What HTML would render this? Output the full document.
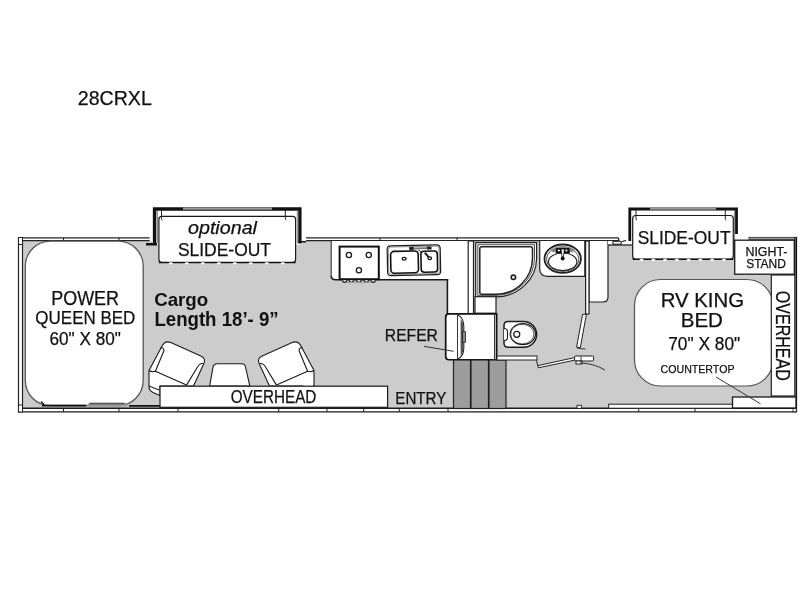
<!DOCTYPE html>
<html><head><meta charset="utf-8"><style>
html,body{margin:0;padding:0;background:#fff;width:800px;height:600px;overflow:hidden}
svg{display:block;will-change:transform}
text{font-family:"Liberation Sans",sans-serif;fill:#111;stroke:#111;stroke-width:0.25px}
</style></head><body>
<svg width="800" height="600" viewBox="0 0 800 600">
<rect width="800" height="600" fill="#fff"/>

<!-- floor -->
<rect x="22.5" y="241" width="772" height="167" fill="#cccccc"/>

<!-- outer walls -->
<g fill="none" stroke="#222" stroke-width="1.2">
  <!-- left wall -->
  <line x1="18.5" y1="237" x2="18.5" y2="412.5"/>
  <line x1="22.5" y1="240.5" x2="22.5" y2="408.5"/>
  <!-- top wall left -->
  <line x1="18" y1="237.8" x2="149.6" y2="237.8"/>
  <line x1="22" y1="240.7" x2="149.6" y2="240.7"/>
  <!-- top wall middle -->
  <line x1="306" y1="237.8" x2="618.5" y2="237.8"/>
  <line x1="306" y1="240.6" x2="618.5" y2="240.6"/>
  <!-- top right -->
  <!-- bottom wall -->
  <line x1="18" y1="411.8" x2="796.5" y2="411.8" stroke-width="1.3" stroke="#1a1a1a"/>
  <line x1="22" y1="408.3" x2="795" y2="408.3" stroke-width="1.4" stroke="#1a1a1a"/>
</g>
<rect x="749" y="237.3" width="47.5" height="2.6" fill="#999" stroke="#333" stroke-width="0.8"/>
<rect x="794.3" y="237.5" width="2.3" height="36.5" fill="#999" stroke="#333" stroke-width="0.8"/>
<line x1="796.3" y1="237" x2="796.3" y2="412.3" stroke="#111" stroke-width="1.6"/>
<rect x="793" y="408.5" width="3.3" height="3.2" fill="#fff" stroke="#222" stroke-width="0.8"/>
<g stroke="#222" stroke-width="1"><line x1="63.5" y1="408.2" x2="63.5" y2="411.9"/><line x1="119" y1="408" x2="119" y2="412"/><line x1="178" y1="408" x2="178" y2="412"/><line x1="278.7" y1="408" x2="278.7" y2="412"/><line x1="327" y1="408" x2="327" y2="412"/><line x1="363.7" y1="408" x2="363.7" y2="412"/><line x1="638.7" y1="408" x2="638.7" y2="412"/><line x1="695" y1="408" x2="695" y2="412"/><line x1="399.3" y1="408" x2="399.3" y2="412"/><line x1="448" y1="408" x2="448" y2="412"/>
<line x1="63.5" y1="237.5" x2="63.5" y2="241"/><line x1="119" y1="237.5" x2="119" y2="241"/><line x1="380" y1="237.5" x2="380" y2="241"/><line x1="457" y1="237.5" x2="457" y2="241"/></g>
<rect x="577" y="405.3" width="4.5" height="3" fill="#fff" stroke="#222" stroke-width="0.9"/>
<rect x="608.7" y="404.2" width="124" height="4" fill="#fff" stroke="#222" stroke-width="1"/>
<rect x="18.5" y="237.5" width="4" height="7" fill="#fff" stroke="#222" stroke-width="1"/>
<rect x="18.5" y="405" width="4" height="7" fill="#fff" stroke="#222" stroke-width="1"/>

<!-- queen bed -->
<rect x="25.3" y="241.2" width="117.9" height="164.3" rx="25" fill="#fff" stroke="#555" stroke-width="1.3"/>

<g stroke="#111" stroke-width="1.7"><line x1="42" y1="405.7" x2="86" y2="405.7"/><line x1="129" y1="405.9" x2="165" y2="405.9"/></g>
<path d="M86 406.5 L89.5 402.8 H124.5 L128 406.5 Z" fill="#9a9a9a"/>
<rect x="89.5" y="402.8" width="35" height="1.6" fill="#555"/>
<path d="M41 401.5 L44 404.5" stroke="#111" stroke-width="1.2"/>
<!-- left slide-out -->
<rect x="152" y="207.5" width="149.5" height="37" fill="#fff"/>
<path d="M154.5 245 V209 H299.9 V243.5" fill="none" stroke="#111" stroke-width="3.3"/>
<path d="M146 243 H157 V245.5 H146 Z M298 241 H306 V242.5 H298 Z" fill="#111"/>
<line x1="183" y1="208.6" x2="272" y2="208.6" stroke="#9a9a9a" stroke-width="2.4"/>
<line x1="157.2" y1="210" x2="157.2" y2="243" stroke="#444" stroke-width="0.9"/>
<line x1="297.3" y1="210" x2="297.3" y2="243" stroke="#777" stroke-width="0.9"/>
<rect x="158.9" y="216.3" width="136.7" height="46.2" rx="3" fill="#fff" stroke="#1a1a1a" stroke-width="1.2"/>
<line x1="158.9" y1="262.5" x2="295.6" y2="262.5" stroke="#111" stroke-width="1.6"/>
<g fill="#fff" stroke="#bbb" stroke-width="0.5"><ellipse cx="170.8" cy="263.6" rx="2" ry="1.3"/><ellipse cx="186.8" cy="263.6" rx="2" ry="1.3"/><ellipse cx="202.8" cy="263.6" rx="2" ry="1.3"/><ellipse cx="218.8" cy="263.6" rx="2" ry="1.3"/><ellipse cx="234.8" cy="263.6" rx="2" ry="1.3"/><ellipse cx="250.8" cy="263.6" rx="2" ry="1.3"/><ellipse cx="266.8" cy="263.6" rx="2" ry="1.3"/><ellipse cx="282.8" cy="263.6" rx="2" ry="1.3"/></g>
<path d="M161.5 210 V218.5 q0 1.5 1 1.5 M285.3 210 V218.5 q0 1.5 1 1.5" fill="none" stroke="#222" stroke-width="1"/>
<!-- Cargo text -->

<!-- chairs -->
<g fill="#fff" stroke="#1a1a1a" stroke-width="1.1" stroke-linejoin="round">
  <path d="M162.3 345.6 Q165.3 340.2 170.8 342.6 L200.8 355.9 Q206.3 358.4 203.8 363.8 L193.5 386 L160 386 L160 395.5 L153 392.5 Q149 390.5 149 386.5 L149 370.5 Z"/>
  <path d="M160.5 348 Q163 346.5 164 350.5 L155.4 371.3" fill="none"/>
  <path d="M149 370.5 Q152 372.5 155.4 371.3 L186.5 385.1" fill="none"/>
  <path d="M203.3 363.5 Q199.5 363 197.5 367 L186.5 385.1" fill="none"/>
  <path d="M149 385.9 L159 390" fill="none"/>
</g>
<g transform="translate(463,0) scale(-1,1)" fill="#fff" stroke="#1a1a1a" stroke-width="1.1" stroke-linejoin="round">
  <path d="M162.3 345.6 Q165.3 340.2 170.8 342.6 L200.8 355.9 Q206.3 358.4 203.8 363.8 L193.5 386 L160 386 L160 395.5 L153 392.5 Q149 390.5 149 386.5 L149 370.5 Z"/>
  <path d="M160.5 348 Q163 346.5 164 350.5 L155.4 371.3" fill="none"/>
  <path d="M149 370.5 Q152 372.5 155.4 371.3 L186.5 385.1" fill="none"/>
  <path d="M203.3 363.5 Q199.5 363 197.5 367 L186.5 385.1" fill="none"/>
  <path d="M149 385.9 L159 390" fill="none"/>
</g>
<path d="M209.7 386 L213 367 Q214 363.8 217 363.8 H242 Q245 363.8 245.5 367 L249.8 386 Z" fill="#fff" stroke="#1a1a1a" stroke-width="1.1"/>
<!-- overhead left -->
<rect x="160" y="386.2" width="227.6" height="21.1" fill="#fff" stroke="#1a1a1a" stroke-width="1.2"/>

<!-- kitchen -->
<path d="M331.2 241 V275.5 Q331.2 279.8 335.5 279.8 H447.4 V241 Z" fill="#fff"/>
<rect x="447" y="241" width="22" height="73" fill="#fff"/>
<line x1="447.4" y1="279" x2="447.4" y2="313.8" stroke="#1a1a1a" stroke-width="1.6"/>
<line x1="331.2" y1="241" x2="331.2" y2="275.5" stroke="#333" stroke-width="1.1"/>
<path d="M331.2 275.5 Q331.2 279.8 335.5 279.8 H448.2" fill="none" stroke="#1a1a1a" stroke-width="1.6"/>
<!-- stove -->
<rect x="339.6" y="246.6" width="39.2" height="32.6" fill="#fff" stroke="#111" stroke-width="2"/>
<g fill="#fff" stroke="#1a1a1a" stroke-width="1.3">
<circle cx="348.9" cy="255" r="2.6"/><circle cx="368.8" cy="255" r="2.6"/><circle cx="358.9" cy="270.2" r="2.6"/>
</g>
<g fill="#fff" stroke="#222" stroke-width="1.2"><path d="M342.6 280.3 a2 2 0 0 0 4 0" /><path d="M349.4 280.3 a2 2 0 0 0 4 0" /><path d="M356.9 280.3 a2 2 0 0 0 4 0" /><path d="M364.4 280.3 a2 2 0 0 0 4 0" /><path d="M371.2 280.3 a2 2 0 0 0 4 0" /></g>
<path d="M346 282.5 H372" stroke="#999" stroke-width="1"/>
<!-- sink -->
<g transform="rotate(-1.2 413 260)">
<rect x="387.4" y="245.4" width="53" height="29.8" rx="3.5" fill="#fff" stroke="#1a1a1a" stroke-width="1.2"/>
<rect x="388.6" y="246.6" width="50.6" height="27.4" rx="3" fill="none" stroke="#555" stroke-width="0.6"/>
<rect x="390.7" y="251" width="27.6" height="21.8" rx="3.5" fill="#fff" stroke="#111" stroke-width="1.6"/>
<rect x="421" y="251.5" width="16.4" height="21" rx="3" fill="#fff" stroke="#111" stroke-width="1.6"/>
<rect x="409.5" y="246.8" width="4.5" height="3.4" fill="#222"/>
<rect x="414" y="247.6" width="13" height="1.8" fill="#777"/>
<rect x="427" y="246.8" width="4.8" height="3" fill="#222"/>
<path d="M418.5 250 Q421 251 421 253" fill="none" stroke="#222" stroke-width="1"/>
<ellipse cx="404.2" cy="258.6" rx="2" ry="1.4" fill="#fff" stroke="#111" stroke-width="1.3"/>
<path d="M425 253 L429.5 258.5" stroke="#222" stroke-width="2"/>
<ellipse cx="429.8" cy="258.6" rx="1.8" ry="1.3" fill="#fff" stroke="#111" stroke-width="1.2"/>
</g>

<!-- bathroom walls -->
<g fill="#fff" stroke="#222" stroke-width="1.2">
  <rect x="468.2" y="241" width="5.3" height="72.5"/>
  <!-- shower -->
  <path d="M475.7 242.6 H536.6 V258 A40.6 38.8 0 0 1 496 296.8 H475.7 Z"/>
  <path d="M477.8 244.7 H534.5 V258 A38.5 37.4 0 0 1 496 295.4 H477.8 Z" stroke-width="0.8"/>
  <path d="M481.8 246.8 H530.5 Q532.5 246.8 532.5 248.8 V258 A36.5 36.3 0 0 1 496 294.3 H481.8 Q479.8 294.3 479.8 292.3 V248.8 Q479.8 246.8 481.8 246.8 Z" stroke-width="1.5"/>
  <circle cx="513.4" cy="277.3" r="2.2" stroke-width="1.6"/>
  <rect x="475" y="296.7" width="21" height="16.5"/>
  <!-- vanity -->
  <path d="M539.7 241 V268.5 Q539.7 276.3 547.5 276.3 H584.8 V241"/>
  <ellipse cx="562.7" cy="258.7" rx="18.2" ry="14.2" stroke-width="1.8"/>
  <ellipse cx="562.7" cy="259.2" rx="16.2" ry="12.2" stroke-width="0.8"/>
  <ellipse cx="562.7" cy="261.8" rx="14.2" ry="8.8" stroke-width="1.1"/>
  <!-- closet -->
  <path d="M589 241 V302 H603 Q608 302 608 297 V241"/>
  <rect x="585.6" y="241" width="3.4" height="73"/>
</g>
<path d="M550 250 Q556 246 562.7 246 Q569.5 246 575.5 250 L572 252.5 Q567.5 249.5 562.7 249.5 Q558 249.5 553.5 252.5 Z" fill="#888"/>
<path d="M556 248 H569.5 L570 253.5 H555.5 Z" fill="#111"/>
<circle cx="558.8" cy="250.5" r="1.1" fill="#fff"/><circle cx="566.4" cy="250.5" r="1.1" fill="#fff"/>
<path d="M561 249 H564.4 L563.4 257 H562 Z" fill="#fff" stroke="#111" stroke-width="0.8"/>
<circle cx="562.7" cy="258.5" r="2" fill="#111"/>

<!-- fridge -->
<path d="M449 313.9 H496.6 V359.75 H449 Q445.7 359.75 445.7 356.5 V317.2 Q445.7 313.9 449 313.9 Z" fill="#fff" stroke="#111" stroke-width="1.7"/>
<line x1="494.6" y1="314.5" x2="494.6" y2="359" stroke="#222" stroke-width="1"/>
<line x1="457.6" y1="314.5" x2="457.6" y2="359" stroke="#222" stroke-width="1"/>
<path d="M458 315 Q463.8 318 463.8 327 V348 Q463.8 356 458 359" fill="#fff" stroke="#222" stroke-width="1.1"/>
<path d="M460.6 319.5 Q463.6 322 463.6 328 V347 Q463.6 353 460.6 355.5 Z" fill="#555"/>
<rect x="462.6" y="331.7" width="2.8" height="10.5" fill="#888" stroke="#222" stroke-width="0.8"/>
<line x1="424" y1="346.3" x2="453.5" y2="351.3" stroke="#333" stroke-width="1"/>

<!-- steps -->
<g fill="#9d9d9d" stroke="#222" stroke-width="1.2">
<rect x="453.5" y="360" width="17" height="48.5"/>
<rect x="471" y="360" width="17.5" height="48.5"/>
<rect x="489" y="360" width="17" height="48.5"/>
</g>

<!-- toilet -->
<g fill="#fff" stroke="#1a1a1a" stroke-width="1.2">
<path d="M508 321.6 H523.6 A13 12.8 0 0 1 523.6 347.2 H508 Q504 347.2 504 343.2 V325.6 Q504 321.6 508 321.6 Z" stroke-width="1.5"/>
<path d="M504 328.5 Q507.5 328.5 507.5 331.5 V337.5 Q507.5 340.5 504 340.5" stroke-width="1.1"/>
<ellipse cx="522.8" cy="334.1" rx="12.6" ry="10.6"/>
<ellipse cx="522.3" cy="334.1" rx="11.6" ry="9.8" stroke-width="0.7"/>
<circle cx="516.8" cy="334.3" r="3"/>
</g>
<!-- bath bottom wall and doors -->
<g fill="#fff" stroke="#222" stroke-width="1">
<rect x="497" y="356" width="40" height="4"/>
<path d="M536.5 360.5 L538.3 367.8 L574.6 360.2 L574.6 357.6 L538 365.6" fill="#fff"/>
<rect x="574.6" y="356" width="19" height="5" rx="1"/>
<rect x="576" y="361" width="6" height="3"/>
<path d="M582.6 314.3 L586.4 314.3 L580.3 347.6 L576.6 347.2 Z"/>
<line x1="581" y1="356.5" x2="581" y2="364" stroke="#222" stroke-width="0.9"/>
</g>
<path d="M582 363 Q595 364 605 370" fill="none" stroke="#333" stroke-width="1"/>
<path d="M577 348 Q582 349 585.5 349" fill="none" stroke="#333" stroke-width="1"/>

<!-- right slide-out -->
<rect x="608" y="241" width="24" height="4" fill="#fff"/>
<line x1="608" y1="245" x2="632" y2="245" stroke="#111" stroke-width="1.2"/>
<rect x="612.8" y="241.2" width="8.5" height="3" rx="1.2" fill="#fff" stroke="#111" stroke-width="1.1"/>
<path d="M618.5 238 L619 241 M622 241.5 L626 240.5" stroke="#111" stroke-width="1.2"/>
<rect x="628" y="207.5" width="109.5" height="33" fill="#fff"/>
<path d="M629.8 241 V209 H736.5 V234" fill="none" stroke="#111" stroke-width="2.8"/>
<line x1="650" y1="208.6" x2="716" y2="208.6" stroke="#9a9a9a" stroke-width="2.4"/>
<line x1="734.6" y1="210" x2="734.6" y2="262" stroke="#777" stroke-width="0.9"/>
<rect x="632.7" y="215.5" width="100.6" height="43.8" rx="3" fill="#fff" stroke="#1a1a1a" stroke-width="1.2"/>
<line x1="632.7" y1="259.3" x2="733.3" y2="259.3" stroke="#111" stroke-width="1.6"/>
<g fill="#fff" stroke="#bbb" stroke-width="0.5"><ellipse cx="641.6" cy="260.1" rx="2" ry="1.3"/><ellipse cx="653.4" cy="260.1" rx="2" ry="1.3"/><ellipse cx="665.1" cy="260.1" rx="2" ry="1.3"/><ellipse cx="676.9" cy="260.1" rx="2" ry="1.3"/><ellipse cx="688.6" cy="260.1" rx="2" ry="1.3"/><ellipse cx="700.4" cy="260.1" rx="2" ry="1.3"/><ellipse cx="712.1" cy="260.1" rx="2" ry="1.3"/><ellipse cx="723.9" cy="260.1" rx="2" ry="1.3"/></g>
<path d="M636 210 V218.5 q0 1.5 1 1.5 M725.3 210 V218.5 q0 1.5 1 1.5" fill="none" stroke="#222" stroke-width="1"/>
<!-- nightstand -->
<rect x="734.7" y="240.2" width="59.6" height="34" fill="#fff" stroke="#1a1a1a" stroke-width="1.3"/>

<!-- king bed -->
<rect x="634.5" y="279.5" width="138.5" height="106.5" rx="26" fill="#fff" stroke="#555" stroke-width="1.2"/>

<!-- overhead right -->
<rect x="771.3" y="275" width="23.5" height="121" fill="#fff" stroke="#222" stroke-width="1.2"/>
<!-- countertop -->
<rect x="732.5" y="397" width="63.5" height="11" fill="#fff" stroke="#1a1a1a" stroke-width="1.3"/>
<line x1="716" y1="377" x2="760.5" y2="403.8" stroke="#333" stroke-width="1"/>
<!-- texts -->
<text x="77.77" y="105" font-size="19.64" textLength="74.06" lengthAdjust="spacingAndGlyphs">28CRXL</text>
<text x="51.26" y="304.7" font-size="19.71" textLength="67.78" lengthAdjust="spacingAndGlyphs">POWER</text>
<text x="35.35" y="324.3" font-size="19.0" textLength="100.0" lengthAdjust="spacingAndGlyphs">QUEEN BED</text>
<text x="49.49" y="344.8" font-size="18.29" textLength="71.42" lengthAdjust="spacingAndGlyphs">60&quot; X 80&quot;</text>
<text x="188.01" y="234" font-size="17.95" textLength="68.96" lengthAdjust="spacingAndGlyphs" font-style="italic">optional</text>
<text x="177.88" y="256.1" font-size="18.29" textLength="93.14" lengthAdjust="spacingAndGlyphs">SLIDE-OUT</text>
<text x="154.15" y="306.2" font-size="18.57" textLength="54.08" lengthAdjust="spacingAndGlyphs" font-weight="bold" style="stroke-width:0">Cargo</text>
<text x="154.4" y="326.2" font-size="19.73" textLength="124.25" lengthAdjust="spacingAndGlyphs" font-weight="bold" style="stroke-width:0">Length 18’- 9”</text>
<text x="230.74" y="403.0" font-size="18.14" textLength="85.66" lengthAdjust="spacingAndGlyphs">OVERHEAD</text>
<text x="384.85" y="340.7" font-size="17.25" textLength="53.02" lengthAdjust="spacingAndGlyphs">REFER</text>
<text x="395.29" y="403.7" font-size="17.25" textLength="51.03" lengthAdjust="spacingAndGlyphs">ENTRY</text>
<text x="637.63" y="244.1" font-size="19.14" textLength="92.89" lengthAdjust="spacingAndGlyphs">SLIDE-OUT</text>
<text x="745.41" y="255.75" font-size="12.36" textLength="42.1" lengthAdjust="spacingAndGlyphs">NIGHT-</text>
<text x="746.15" y="267.75" font-size="12.36" textLength="39.79" lengthAdjust="spacingAndGlyphs">STAND</text>
<text x="660.67" y="306.7" font-size="19.71" textLength="83.43" lengthAdjust="spacingAndGlyphs">RV KING</text>
<text x="680.76" y="327.4" font-size="19.42" textLength="42.19" lengthAdjust="spacingAndGlyphs">BED</text>
<text x="668.13" y="349.9" font-size="18.14" textLength="72.09" lengthAdjust="spacingAndGlyphs">70&quot; X 80&quot;</text>
<text x="660.57" y="373.1" font-size="11.71" textLength="73.9" lengthAdjust="spacingAndGlyphs">COUNTERTOP</text>
<text transform="translate(776 290.8) rotate(90)" x="0" y="0" font-size="20.0" textLength="90.04" lengthAdjust="spacingAndGlyphs">OVERHEAD</text>
</svg>
</body></html>
